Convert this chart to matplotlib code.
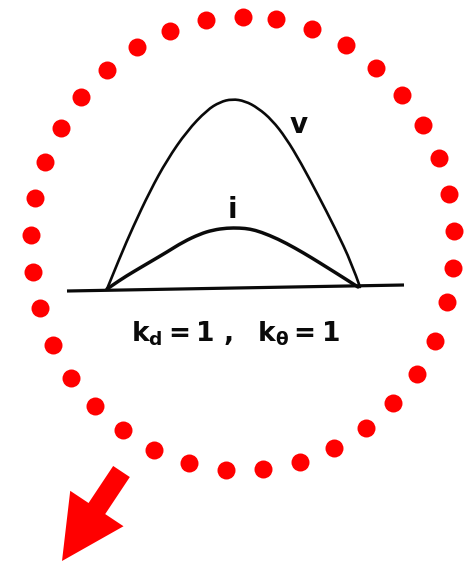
import matplotlib
matplotlib.use("Agg")
import matplotlib.pyplot as plt
from matplotlib.patches import FancyArrow, PathPatch
from matplotlib.path import Path

plt.rcParams["mathtext.fontset"] = "custom"
plt.rcParams["mathtext.rm"] = "DejaVu Sans:bold"
plt.rcParams["mathtext.it"] = "DejaVu Sans:bold"

# canvas is laid out in pixel units (x right, y down)
W, H = 467, 562

# v and i curves over one half-cycle, sitting on the baseline
v_x = [107, 120, 133, 150, 167, 187, 207, 220, 232, 245, 258, 272, 286, 301, 318, 335, 352, 360]
v_y = [289, 257, 227, 191, 160, 131, 110, 102, 99, 101, 108, 120, 138, 163, 195, 228, 264, 287]
i_x = [107, 120, 133, 150, 167, 183, 200, 213, 227, 240, 250, 261, 278, 295, 312, 328, 344, 358]
i_y = [289, 280, 272, 262, 252, 242, 234, 230, 228, 228, 229, 232, 239, 248, 258, 268, 278, 287]
base_x = [67, 404]
base_y = [291, 285]

# dotted ring
dot_x = [243, 276, 312, 346, 376, 402, 423, 439, 449, 454, 453, 447, 435, 417, 393, 366, 334,
         300, 263, 226, 189, 154, 123, 95, 71, 53, 40, 33, 31, 35, 45, 61, 81, 107, 137, 170, 206]
dot_y = [17, 19, 29, 45, 68, 95, 125, 158, 194, 231, 268, 302, 341, 374, 403, 428, 448,
         462, 469, 470, 463, 450, 430, 406, 378, 345, 308, 272, 235, 198, 162, 128, 97, 70, 47, 31, 20]

# arrow: tail centre -> tip
arrow_tail = (121.5, 471.5)
arrow_tip = (62, 561)

RED = "#ff0000"
INK = "#0a0a0a"


def smooth_path(xs, ys):
    """Quadratic Bezier path: each sample is a control point, segments meet at midpoints."""
    pts = list(zip(xs, ys))
    verts = [pts[0]]
    codes = [Path.MOVETO]
    for k in range(1, len(pts) - 1):
        mid = ((pts[k][0] + pts[k + 1][0]) / 2, (pts[k][1] + pts[k + 1][1]) / 2)
        if k == len(pts) - 2:
            mid = pts[-1]
        verts += [pts[k], mid]
        codes += [Path.CURVE3, Path.CURVE3]
    return Path(verts, codes)


fig = plt.figure(figsize=(W / 100, H / 100), dpi=100)
ax = fig.add_axes([0, 0, 1, 1])
ax.set_xlim(0, W)
ax.set_ylim(H, 0)
ax.set_aspect("equal")
ax.axis("off")

ax.plot(base_x, base_y, color=INK, lw=2.3, solid_capstyle="butt")
ax.add_patch(PathPatch(smooth_path(v_x, v_y), fill=False, edgecolor=INK, lw=1.9,
                       joinstyle="round", capstyle="round"))
ax.add_patch(PathPatch(smooth_path(i_x, i_y), fill=False, edgecolor=INK, lw=2.5,
                       joinstyle="round", capstyle="round"))

ax.text(299, 125, "v", fontsize=20, fontweight="bold", color=INK, ha="center", va="center")
ax.text(232, 210, "i", fontsize=20, fontweight="bold", color=INK, ha="center", va="center")
ax.text(236, 342, r"$\mathrm{k_d = 1\ ,\ \ k_\theta = 1}$", fontsize=19,
        color=INK, ha="center", va="baseline")

ax.scatter(dot_x, dot_y, s=(18 * 0.72) ** 2, color=RED, linewidths=0)

ax.add_patch(FancyArrow(arrow_tail[0], arrow_tail[1],
                        arrow_tip[0] - arrow_tail[0], arrow_tip[1] - arrow_tail[1],
                        width=20, head_width=64, head_length=63,
                        length_includes_head=True, color=RED, lw=0))

fig.savefig("out.png", dpi=100)
